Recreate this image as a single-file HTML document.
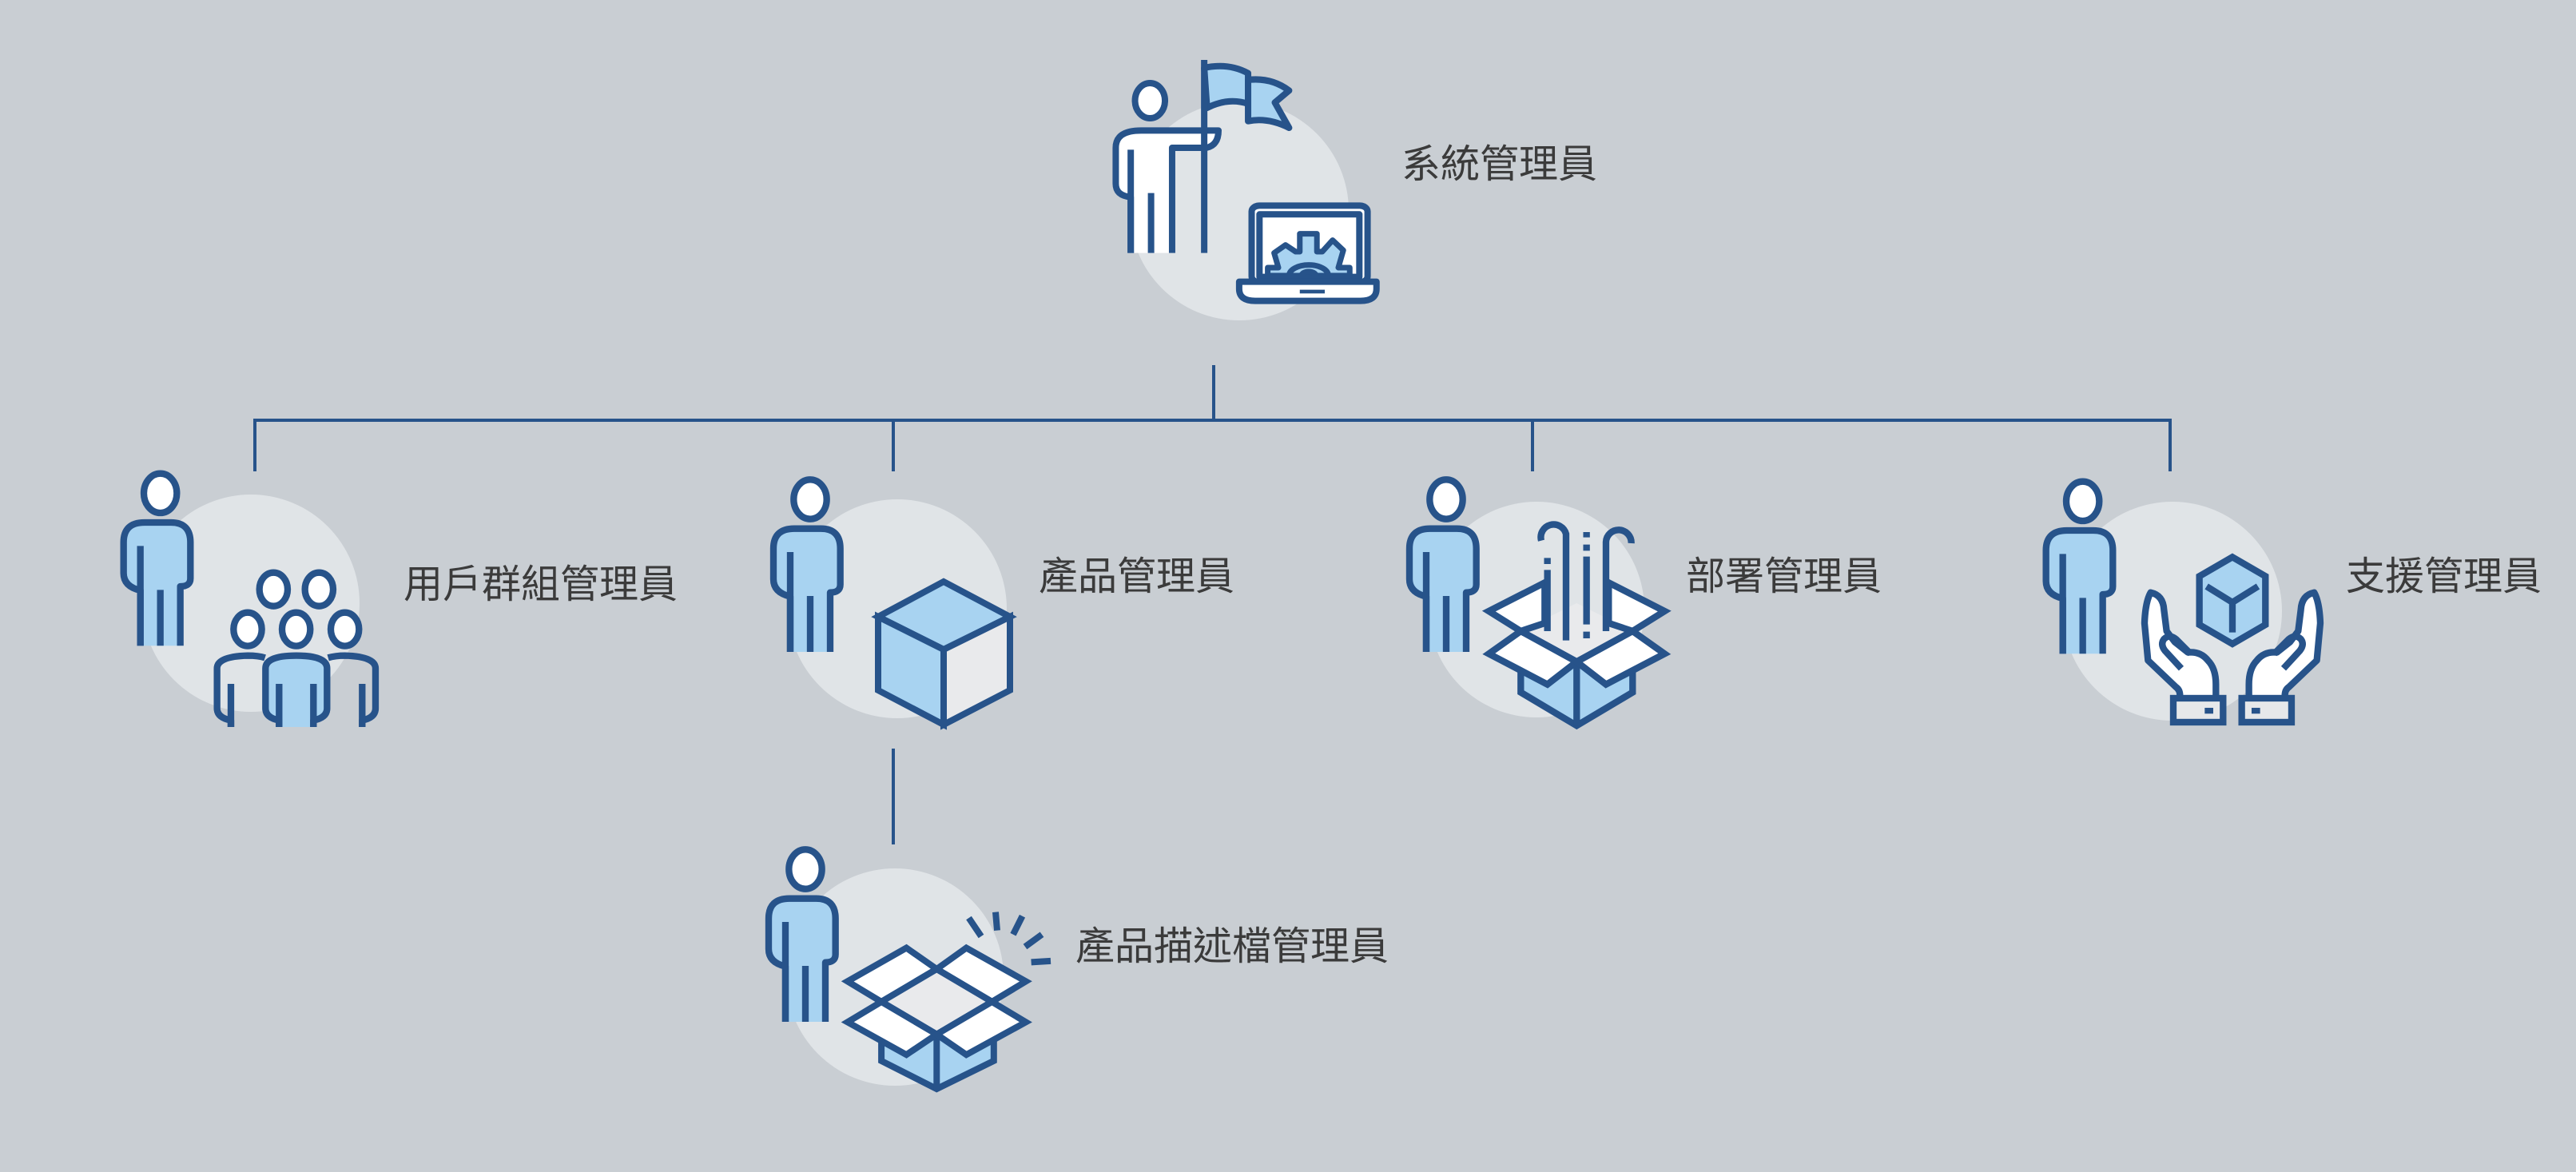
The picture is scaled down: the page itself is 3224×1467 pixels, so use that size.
<!DOCTYPE html>
<html><head><meta charset="utf-8">
<style>
html,body{margin:0;padding:0;background:#c9ced3;}
svg{display:block;}
text{font-family:"Liberation Sans","Noto Sans CJK TC",sans-serif;font-size:49px;fill:#3b3b3b;}
</style></head><body>
<svg width="3224" height="1467" viewBox="0 0 3224 1467" xmlns="http://www.w3.org/2000/svg">
<defs>
<g id="person" stroke="#27538a" stroke-width="25" stroke-linejoin="round">
  <ellipse cx="0" cy="0" rx="62" ry="74" fill="#fff"/>
  <path d="M -75 573 V 365 Q -138 350 -138 300 V 185 Q -138 110 -60 110 H 40 Q 113 110 113 185 V 320 Q 113 350 75 350 V 573 Z" fill="#a8d3f1" stroke="none"/>
  <path d="M -75 573 V 365 Q -138 350 -138 300 V 185 Q -138 110 -60 110 H 40 Q 113 110 113 185 V 320 Q 113 350 75 350 V 573" fill="none"/>
  <path d="M -75 198 V 573 M 0 363 V 573" fill="none" stroke-linejoin="miter"/>
</g>
</defs>
<rect width="3224" height="1467" fill="#c9ced3"/>

<g fill="#e0e4e7">
<circle cx="1551" cy="264" r="137"/>
<circle cx="314" cy="755" r="136"/>
<circle cx="1123" cy="762" r="137"/>
<circle cx="1923" cy="763" r="135"/>
<circle cx="2719" cy="765" r="137"/>
<circle cx="1120" cy="1223" r="136"/>
</g>

<g stroke="#27538a" stroke-width="4" fill="none">
<path d="M1519 457 V526 M317 526 H2718 M319 524 V590 M1118 524 V590 M1918 524 V590 M2716 524 V590 M1118 937 V1057"/>
</g>

<g transform="translate(1350,50) scale(0.4464,0.3333)" stroke="#27538a" fill="none" stroke-linejoin="round">
  <path d="M 352 105 Q 420 85 475 125 V 240 Q 420 215 360 255 Z" fill="#a8d3f1" stroke-width="8" vector-effect="non-scaling-stroke"/>
  <path d="M 475 150 Q 540 140 590 190 L 550 235 L 590 330 Q 530 290 475 305 Z" fill="#a8d3f1" stroke-width="8" vector-effect="non-scaling-stroke"/>
  <ellipse cx="200" cy="228" rx="42" ry="66" fill="#fff" stroke-width="8" vector-effect="non-scaling-stroke"/>
  <path d="M 146 800 V 590 Q 104 585 104 540 V 405 Q 104 340 175 340 H 392 Q 392 395 358 405 H 262 V 800 Z" fill="#fff" stroke="none"/>
  <path d="M 146 800 V 590 Q 104 585 104 540 V 405 Q 104 340 175 340 H 392 Q 392 395 358 405 H 262 V 800" stroke-width="8" vector-effect="non-scaling-stroke"/>
  <path d="M 146 412 V 800 M 203 575 V 800 M 352 75 V 800" stroke-width="8" vector-effect="non-scaling-stroke" stroke-linejoin="miter"/>
  <rect x="485" y="622" width="325" height="288" rx="22" fill="#fff" stroke-width="8" vector-effect="non-scaling-stroke"/>
  <rect x="507" y="655" width="280" height="235" fill="#fff" stroke-width="8" vector-effect="non-scaling-stroke"/>
  <path d="M 530 885 V 855 H 560 L 548 800 L 580 770 L 608 795 H 620 V 728 H 668 V 795 H 683 L 712 752 L 742 790 L 728 855 H 760 V 885 Z" fill="#a8d3f1" stroke-width="7" vector-effect="non-scaling-stroke"/>
  <path d="M 590 885 A 55 40 0 0 1 700 885 M 625 885 A 20 15 0 0 1 665 885" stroke-width="7" vector-effect="non-scaling-stroke"/>
  <path d="M 450 908 H 835 V 935 Q 835 980 790 980 H 495 Q 450 980 450 935 Z" fill="#fff" stroke-width="8" vector-effect="non-scaling-stroke"/>
  <rect x="620" y="938" width="70" height="14" fill="#27538a" stroke="none"/>
</g>
<text x="1754" y="222">系統管理員</text>

<g transform="translate(130,570) scale(0.3333)">
  <use href="#person" transform="translate(212,142)"/>
  <g stroke="#27538a" stroke-width="25" fill="#fff" stroke-linejoin="round">
    <ellipse cx="637" cy="503" rx="53" ry="63"/>
    <ellipse cx="808" cy="503" rx="53" ry="63"/>
    <ellipse cx="540" cy="653" rx="53" ry="63"/>
    <ellipse cx="722" cy="653" rx="53" ry="63"/>
    <ellipse cx="905" cy="653" rx="53" ry="63"/>
    <path d="M 477 1020 V 995 Q 425 985 425 950 V 800 Q 425 755 540 752 Q 580 752 605 760" fill="none"/>
    <path d="M 970 1020 V 995 Q 1020 985 1020 950 V 800 Q 1020 755 905 752 Q 870 752 842 760" fill="none"/>
    <path d="M 658 1020 V 995 Q 607 985 607 950 V 800 Q 607 752 722 752 Q 838 752 838 800 V 950 Q 838 985 787 995 V 1020" fill="#a8d3f1"/>
    <path d="M 477 858 V 1020 M 970 858 V 1020 M 658 858 V 1020 M 787 858 V 1020" fill="none"/>
  </g>
</g>
<text x="505" y="748">用戶群組管理員</text>

<use href="#person" transform="translate(1014,625) scale(0.3333)"/>
<g stroke="#27538a" stroke-width="8" stroke-linejoin="miter">
  <polygon points="1181,728 1264,772 1181,813 1099,772" fill="#a8d3f1"/>
  <polygon points="1099,772 1181,813 1181,907 1099,864" fill="#a8d3f1"/>
  <polygon points="1264,772 1264,864 1181,907 1181,813" fill="#e9eaec"/>
</g>
<text x="1300" y="738">產品管理員</text>

<use href="#person" transform="translate(1008,1088) scale(0.3333)"/>
<g stroke="#27538a" stroke-width="8" stroke-linejoin="miter">
  <polygon points="1103.1,1253.9 1060.7,1228.4 1134.4,1186.5 1172.3,1213" fill="#fff"/>
  <polygon points="1241.5,1253.9 1283.9,1228.4 1209.4,1186.5 1172.3,1213" fill="#fff"/>
  <polygon points="1172.3,1213 1241.5,1253.9 1172.3,1294.7 1103.1,1253.9" fill="#e9eaec"/>
  <polygon points="1103.1,1299.8 1103.1,1327.9 1172.3,1363 1243.8,1327.9 1243.8,1299.8 1172.3,1294.7" fill="#a8d3f1"/>
  <path d="M1172.3 1294.7 V1363" fill="none"/>
  <polygon points="1103.1,1253.9 1060.7,1279.4 1134.4,1320.2 1172.3,1294.7" fill="#fff"/>
  <polygon points="1241.5,1253.9 1283.9,1279.4 1209.4,1320.2 1172.3,1294.7" fill="#fff"/>
  <path d="M1212.5 1149 L1228 1172 M1246 1141.6 L1248 1164.6 M1279.5 1146.7 L1268 1169.7 M1304 1169.7 L1283 1185 M1315 1202.9 L1290.6 1204.4" fill="none"/>
</g>
<text x="1346" y="1201">產品描述檔管理員</text>

<g transform="translate(1740,580) scale(0.3333)">
  <use href="#person" transform="translate(210,135)"/>
  <g stroke="#27538a" stroke-width="25" stroke-linejoin="miter">
    <polygon points="700,525 910,630 700,745 490,630" fill="#e9eaec" stroke="none"/>
    <polygon points="490,630 370,555 580,448 580,600" fill="#fff"/>
    <polygon points="910,630 1030,555 820,448 820,600" fill="#fff"/>
    <path d="M490 630 L700 745 L910 630" fill="none"/>
    <path d="M590 355 V378 M590 400 V630 M737 258 V278 M737 305 V328 M737 350 V605 M737 632 V657" fill="none"/>
    <path d="M 660 665 V 265 A 47 47 0 0 0 567 290" fill="none"/>
    <path d="M 810 630 V 295 A 47 47 0 0 1 905 300" fill="none"/>
    <polygon points="490,760 490,860 700,985 910,860 910,760 700,745" fill="#a8d3f1"/>
    <path d="M700 745 V985" fill="none"/>
    <polygon points="490,630 370,715 590,830 700,745" fill="#fff"/>
    <polygon points="910,630 1030,715 810,830 700,745" fill="#fff"/>
  </g>
</g>
<text x="2110" y="738">部署管理員</text>

<g transform="translate(2550,580) scale(0.3333)">
  <use href="#person" transform="translate(170,142)"/>
  <g stroke="#27538a" stroke-width="25" stroke-linejoin="miter">
    <polygon points="732,352 856,424 856,606 732,678 608,606 608,424" fill="#a8d3f1"/>
    <path d="M 635 462 L 732 522 L 828 462 M 732 522 V 635" fill="none"/>
    <g id="hand" stroke-linejoin="round">
      <path d="M 535 872 Q 535 850 520 840 L 415 740 L 402 600 Q 405 520 425 485 Q 472 495 475 550 L 485 630 Q 500 650 515 670 L 565 710 Q 612 705 640 740 Q 670 770 670 830 V 872" fill="#fff"/>
      <path d="M 540 770 L 480 705 Q 460 680 475 660 Q 495 640 520 660 L 575 715" fill="none"/>
      <rect x="510" y="882" width="187" height="90" fill="#e6e8ea" stroke-linejoin="miter"/>
      <rect x="628" y="918" width="32" height="22" fill="#27538a" stroke="none"/>
    </g>
    <use href="#hand" transform="translate(1464,0) scale(-1,1)"/>
  </g>
</g>
<text x="2936" y="738">支援管理員</text>
</svg>
</body></html>
